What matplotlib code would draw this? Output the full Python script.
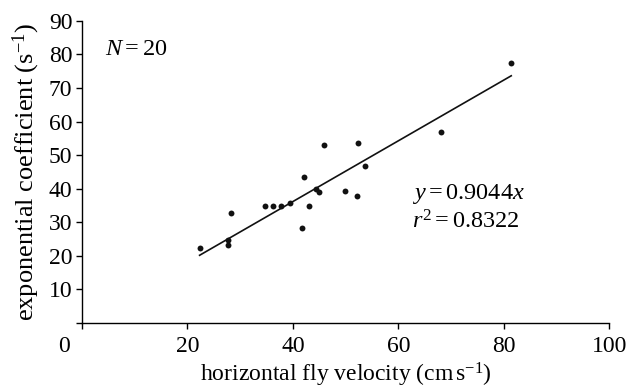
import matplotlib
matplotlib.use("Agg")
import matplotlib.pyplot as plt
import matplotlib.transforms as mtransforms
import numpy as np

velocity = [22.3, 27.6, 27.6, 28.2, 34.7, 36.2, 37.7, 39.5, 41.7, 42.1,
            43.0, 44.4, 45.0, 45.8, 49.9, 52.1, 52.3, 53.7, 68.1, 81.4]
coefficient = [22.2, 24.7, 23.2, 32.9, 34.7, 34.9, 34.7, 35.6, 28.4, 43.5,
               34.9, 39.9, 38.9, 53.0, 39.3, 37.9, 53.7, 46.9, 56.9, 77.5]
slope = 0.9044
x_ticks = [0, 20, 40, 60, 80, 100]
y_ticks = [0, 10, 20, 30, 40, 50, 60, 70, 80, 90]

plt.rcParams["font.family"] = ["Liberation Serif", "DejaVu Serif"]
plt.rcParams["mathtext.fontset"] = "custom"
plt.rcParams["mathtext.rm"] = "Liberation Serif"
plt.rcParams["mathtext.it"] = "Liberation Serif:italic"

fig = plt.figure(figsize=(6.27, 3.92), dpi=100)
ax = fig.add_axes([0.1308, 0.176, 0.841, 0.771])

ax.scatter(velocity, coefficient, s=18, color="#111111", zorder=3, linewidths=0)
xs = np.array([min(velocity), max(velocity)])
ax.plot(xs, slope * xs, color="#111111", lw=1.2)

ax.set_xlim(0, 100)
ax.set_ylim(0, 90)
ax.set_xticks(x_ticks)
ax.set_yticks(y_ticks)
ax.set_yticklabels([""] + [str(v) for v in y_ticks[1:]])
ax.spines["top"].set_visible(False)
ax.spines["right"].set_visible(False)
for s in ("left", "bottom"):
    ax.spines[s].set_linewidth(1.0)
ax.tick_params(direction="out", length=4, width=1.0, labelsize=17, pad=3)
ax.tick_params(axis="x", pad=5)

# the shared origin label sits left of the axis
lbl0 = ax.get_xticklabels()[0]
lbl0.set_transform(lbl0.get_transform() +
                   mtransforms.ScaledTranslation(-18 / 100, 0, fig.dpi_scale_trans))

ax.set_xlabel(r"horizontal fly velocity (cm$\,$s$^{-1}$)", fontsize=17, labelpad=3)
ax.set_ylabel(r"exponential coefficient (s$^{-1}$)", fontsize=19, labelpad=5)

ax.text(4.4, 81.4, r"$N{=}20$", fontsize=17.5, va="center", ha="left")
ax.text(62.6, 38.4, r"$y{=}0.9044x$", fontsize=17.5, va="center", ha="left")
ax.text(62.6, 30.2, r"$r^2{=}0.8322$", fontsize=17.5, va="center", ha="left")

fig.savefig("out.png", dpi=100)
